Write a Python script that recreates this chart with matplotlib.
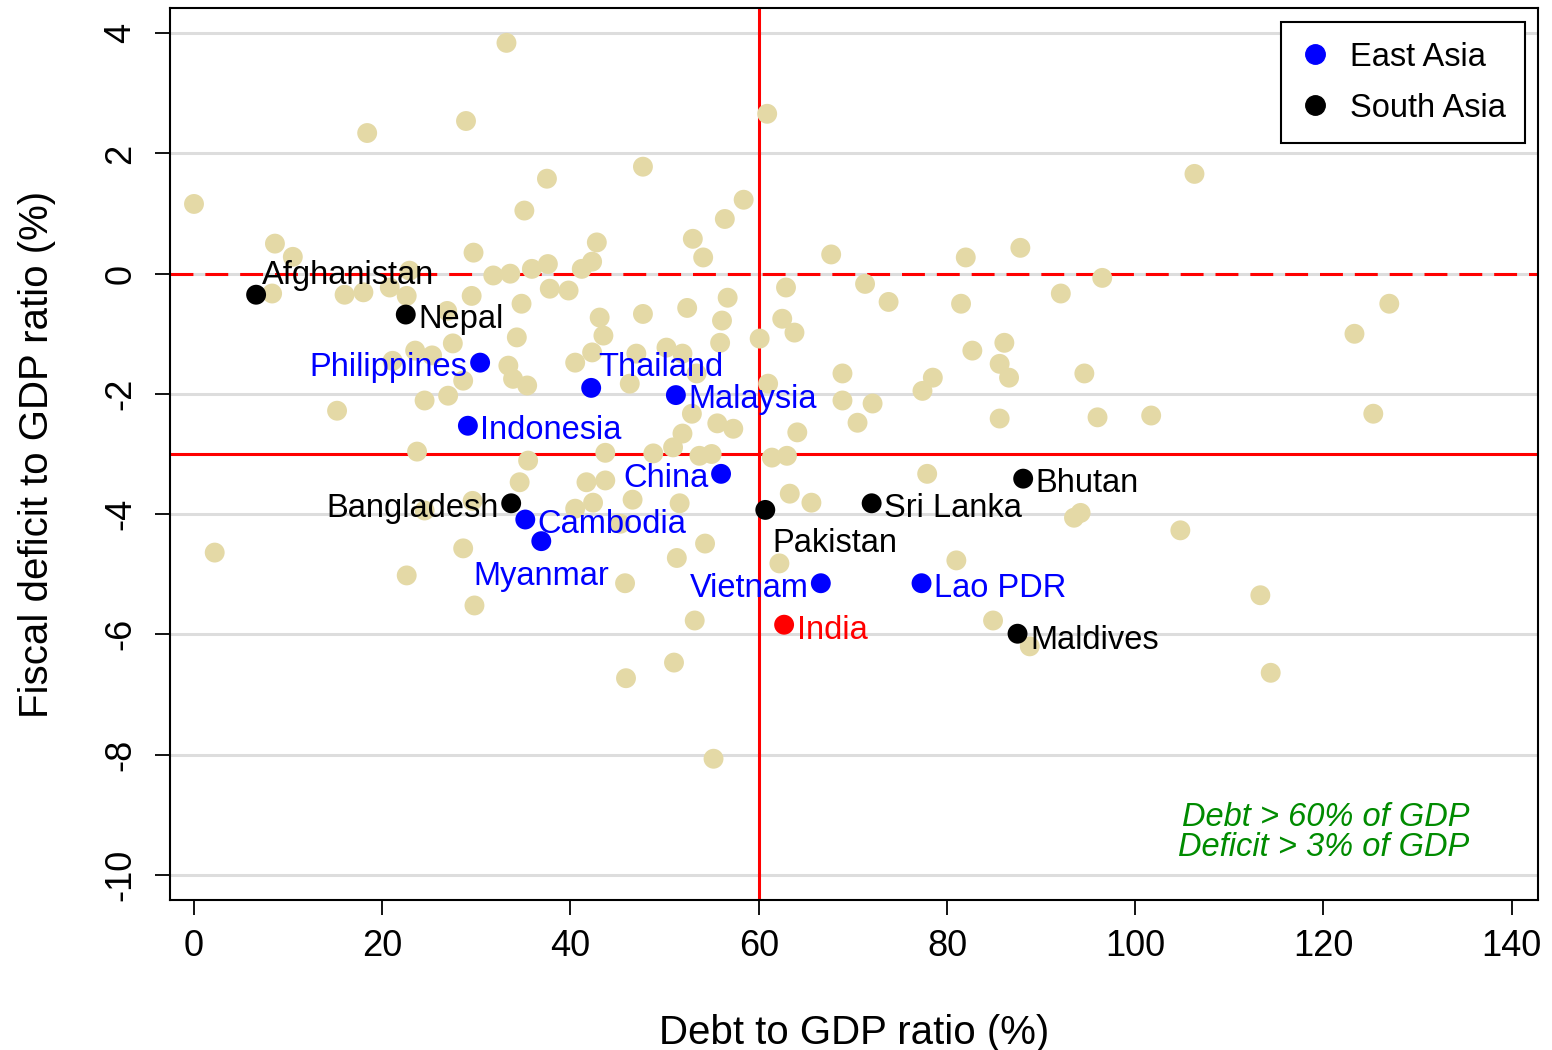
import matplotlib

matplotlib.use("Agg")
import matplotlib.pyplot as plt
from matplotlib.lines import Line2D

plt.rcParams["font.family"] = ["Liberation Sans", "DejaVu Sans"]
plt.rcParams["axes.unicode_minus"] = False

# All other economies (background cloud)
other_debt = [
    0.0, 8.6, 10.5, 8.3, 16.0, 18.0, 20.8, 22.6, 22.9, 18.4, 28.9, 33.2, 37.5, 35.1,
    29.7, 31.8, 33.6, 35.9, 37.6, 41.2, 42.3, 42.8, 37.8, 39.8, 29.5, 34.8, 43.1, 26.9,
    27.5, 23.5, 25.3, 21.1, 28.6, 33.4, 33.9, 34.3, 24.5, 27.0, 15.2, 23.7, 35.4, 40.5,
    42.3, 43.5, 35.5, 34.6, 43.7, 41.7, 43.7, 40.5, 42.4, 29.6, 24.5, 28.6, 22.6, 29.8,
    2.2, 45.8, 45.3, 46.6, 51.6,
    47.7, 58.4, 56.4, 53.0, 54.1, 60.9, 47.7, 52.4, 56.7, 56.1, 55.9, 60.1, 46.3, 47.0,
    50.2, 51.9, 53.4, 61.0, 52.9, 55.6, 57.3, 51.9, 50.9, 48.8, 53.7, 55.0, 61.4, 63.0,
    64.1, 63.3, 65.6, 54.3, 51.3, 62.2, 53.2, 45.9, 51.0, 55.2,
    67.7, 82.0, 87.8, 62.9, 62.5, 63.8, 71.3, 73.8, 81.5, 68.9, 68.9, 72.1, 70.5, 78.5,
    77.4, 82.7, 86.1, 85.6, 86.6, 85.6, 77.9, 81.0, 84.9, 88.8,
    106.3, 92.1, 96.5, 127.0, 123.3, 125.3, 94.6, 96.0, 101.7, 93.5, 94.2, 104.8, 113.3,
    114.4,
]
other_deficit = [
    1.16, 0.50, 0.28, -0.33, -0.35, -0.31, -0.23, -0.37, 0.05, 2.34, 2.54, 3.84, 1.58, 1.05,
    0.35, -0.03, 0.00, 0.08, 0.16, 0.08, 0.20, 0.52, -0.25, -0.28, -0.37, -0.50, -0.73, -0.62,
    -1.16, -1.28, -1.36, -1.45, -1.78, -1.53, -1.75, -1.06, -2.11, -2.03, -2.28, -2.96, -1.86, -1.48,
    -1.31, -1.03, -3.11, -3.47, -2.98, -3.47, -3.44, -3.91, -3.81, -3.78, -3.94, -4.57, -5.02, -5.52,
    -4.64, -5.15, -4.16, -3.76, -3.82,
    1.78, 1.23, 0.91, 0.58, 0.27, 2.66, -0.67, -0.57, -0.40, -0.78, -1.15, -1.08, -1.83, -1.33,
    -1.23, -1.33, -1.66, -1.83, -2.33, -2.49, -2.58, -2.66, -2.89, -2.99, -3.03, -3.00, -3.06, -3.03,
    -2.64, -3.66, -3.81, -4.49, -4.73, -4.82, -5.77, -6.73, -6.47, -8.07,
    0.32, 0.27, 0.43, -0.23, -0.75, -0.98, -0.17, -0.47, -0.50, -1.66, -2.11, -2.16, -2.48, -1.73,
    -1.95, -1.28, -1.15, -1.50, -1.73, -2.41, -3.33, -4.77, -5.77, -6.20,
    1.66, -0.33, -0.07, -0.50, -1.00, -2.33, -1.66, -2.39, -2.36, -4.06, -3.98, -4.27, -5.35,
    -6.64,
]

east_names = ["Philippines", "Indonesia", "Thailand", "Malaysia", "China",
              "Cambodia", "Myanmar", "Vietnam", "Lao PDR"]
east_debt = [30.4, 29.1, 42.2, 51.2, 56.0, 35.2, 36.9, 66.6, 77.3]
east_deficit = [-1.48, -2.53, -1.90, -2.02, -3.33, -4.09, -4.45, -5.15, -5.15]

south_names = ["Afghanistan", "Nepal", "Bangladesh", "Pakistan", "Sri Lanka",
               "Bhutan", "Maldives"]
south_debt = [6.6, 22.5, 33.7, 60.7, 72.0, 88.1, 87.5]
south_deficit = [-0.35, -0.68, -3.82, -3.93, -3.82, -3.41, -5.99]

india_debt = 62.7
india_deficit = -5.84

x_ticks = [0, 20, 40, 60, 80, 100, 120, 140]
y_ticks = [-10, -8, -6, -4, -2, 0, 2, 4]

# label placement: (dx, dy) in points, horizontal alignment
label_pos = {
    "Afghanistan": (4, 16, "left"),
    "Nepal": (9, -1, "left"),
    "Philippines": (-9, -1, "right"),
    "Indonesia": (9, -1, "left"),
    "Thailand": (5, 17, "left"),
    "Malaysia": (9, -1, "left"),
    "China": (-9, -1, "right"),
    "Bangladesh": (-9, -1, "right"),
    "Cambodia": (9, -1, "left"),
    "Myanmar": (0, -23, "center"),
    "Pakistan": (5, -22, "left"),
    "Sri Lanka": (9, -1, "left"),
    "Bhutan": (9, -1, "left"),
    "Vietnam": (-9, -1, "right"),
    "Lao PDR": (9, -1, "left"),
    "Maldives": (9, -2, "left"),
    "India": (9, -2, "left"),
}

BEIGE = "#E4D9A6"
FS = 23.5

fig = plt.figure(figsize=(15.52, 10.5), dpi=100)
ax = fig.add_axes([170 / 1552, 1 - 900 / 1050, 1368 / 1552, 892 / 1050])

ax.set_xlim(-2.55, 142.8)
ax.set_ylim(-10.42, 4.42)

for yv in y_ticks:
    ax.axhline(yv, color="#DDDDDD", lw=2.2, zorder=0)

ax.axvline(60, color="#FF0000", lw=2.2, zorder=1)
ax.axhline(-3, color="#FF0000", lw=2.2, zorder=1)
ax.axhline(0, color="#FF0000", lw=2.2, dashes=(7.5, 3.9), zorder=1)

ax.scatter(other_debt, other_deficit, s=205, color=BEIGE, edgecolors="none", zorder=2)
ax.scatter(east_debt, east_deficit, s=205, color="#0000FF", edgecolors="none", zorder=3)
ax.scatter(south_debt, south_deficit, s=205, color="black", edgecolors="none", zorder=3)
ax.scatter([india_debt], [india_deficit], s=205, color="#FF0000", edgecolors="none", zorder=3)


def put_label(name, x, y, color):
    dx, dy, ha = label_pos[name]
    ax.annotate(name, (x, y), xytext=(dx, dy), textcoords="offset points",
                ha=ha, va="center_baseline", fontsize=FS, color=color, zorder=4)


for n, x, y in zip(east_names, east_debt, east_deficit):
    put_label(n, x, y, "#0000FF")
for n, x, y in zip(south_names, south_debt, south_deficit):
    put_label(n, x, y, "black")
put_label("India", india_debt, india_deficit, "#FF0000")

ax.text(135.5, -9.3, "Debt > 60% of GDP\nDeficit > 3% of GDP", ha="right", va="center",
        fontsize=FS, style="italic", color="#008B00", linespacing=0.95)

ax.set_xticks(x_ticks)
ax.set_yticks(y_ticks)
ax.tick_params(axis="both", length=10.8, width=1.3, labelsize=26, color="black")
ax.tick_params(axis="x", pad=10)
ax.tick_params(axis="y", pad=12, labelrotation=90)
for lab in ax.get_yticklabels():
    lab.set_va("center")

for sp in ax.spines.values():
    sp.set_linewidth(1.5)
    sp.set_color("black")

ax.set_xlabel("Debt to GDP ratio (%)", fontsize=29, labelpad=36)
ax.set_ylabel("Fiscal deficit to GDP ratio (%)", fontsize=29, labelpad=34)

handles = [
    Line2D([], [], ls="none", marker="o", markersize=14, color="#0000FF", label="East Asia"),
    Line2D([], [], ls="none", marker="o", markersize=14, color="black", label="South Asia"),
]
leg = ax.legend(handles=handles, loc="upper right", bbox_to_anchor=(0.9905, 0.9843),
                fontsize=FS, frameon=True, fancybox=False, edgecolor="black",
                framealpha=1, borderpad=0.6, labelspacing=0.62, handletextpad=0.6,
                handlelength=0.9, borderaxespad=0)
leg.get_frame().set_linewidth(1.5)

fig.savefig("out.png", dpi=100)
